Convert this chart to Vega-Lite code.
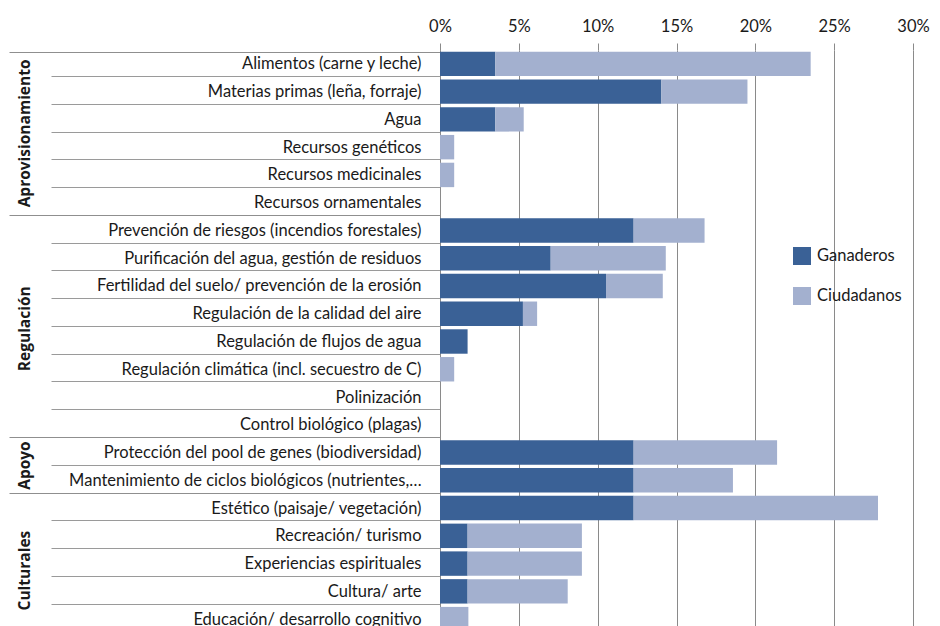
{
  "$schema": "https://vega.github.io/schema/vega-lite/v6.json",
  "autosize": {"type": "none"},
  "padding": {"left": 440, "top": 50, "right": 27, "bottom": -7},
  "width": 473,
  "height": 583,
  "background": "white",
  "data": {"values": [
    {"grupo": "Aprovisionamiento", "servicio": "Alimentos (carne y leche)", "actor": "Ganaderos", "orden": 1, "valor": 3.51},
    {"grupo": "Aprovisionamiento", "servicio": "Alimentos (carne y leche)", "actor": "Ciudadanos", "orden": 2, "valor": 20.0},
    {"grupo": "Aprovisionamiento", "servicio": "Materias primas (leña, forraje)", "actor": "Ganaderos", "orden": 1, "valor": 14.04},
    {"grupo": "Aprovisionamiento", "servicio": "Materias primas (leña, forraje)", "actor": "Ciudadanos", "orden": 2, "valor": 5.46},
    {"grupo": "Aprovisionamiento", "servicio": "Agua", "actor": "Ganaderos", "orden": 1, "valor": 3.51},
    {"grupo": "Aprovisionamiento", "servicio": "Agua", "actor": "Ciudadanos", "orden": 2, "valor": 1.8},
    {"grupo": "Aprovisionamiento", "servicio": "Recursos genéticos", "actor": "Ganaderos", "orden": 1, "valor": 0},
    {"grupo": "Aprovisionamiento", "servicio": "Recursos genéticos", "actor": "Ciudadanos", "orden": 2, "valor": 0.9},
    {"grupo": "Aprovisionamiento", "servicio": "Recursos medicinales", "actor": "Ganaderos", "orden": 1, "valor": 0},
    {"grupo": "Aprovisionamiento", "servicio": "Recursos medicinales", "actor": "Ciudadanos", "orden": 2, "valor": 0.9},
    {"grupo": "Aprovisionamiento", "servicio": "Recursos ornamentales", "actor": "Ganaderos", "orden": 1, "valor": 0},
    {"grupo": "Aprovisionamiento", "servicio": "Recursos ornamentales", "actor": "Ciudadanos", "orden": 2, "valor": 0},
    {"grupo": "Regulación", "servicio": "Prevención de riesgos (incendios forestales)", "actor": "Ganaderos", "orden": 1, "valor": 12.28},
    {"grupo": "Regulación", "servicio": "Prevención de riesgos (incendios forestales)", "actor": "Ciudadanos", "orden": 2, "valor": 4.5},
    {"grupo": "Regulación", "servicio": "Purificación del agua, gestión de residuos", "actor": "Ganaderos", "orden": 1, "valor": 7.02},
    {"grupo": "Regulación", "servicio": "Purificación del agua, gestión de residuos", "actor": "Ciudadanos", "orden": 2, "valor": 7.3},
    {"grupo": "Regulación", "servicio": "Fertilidad del suelo/ prevención de la erosión", "actor": "Ganaderos", "orden": 1, "valor": 10.53},
    {"grupo": "Regulación", "servicio": "Fertilidad del suelo/ prevención de la erosión", "actor": "Ciudadanos", "orden": 2, "valor": 3.6},
    {"grupo": "Regulación", "servicio": "Regulación de la calidad del aire", "actor": "Ganaderos", "orden": 1, "valor": 5.26},
    {"grupo": "Regulación", "servicio": "Regulación de la calidad del aire", "actor": "Ciudadanos", "orden": 2, "valor": 0.9},
    {"grupo": "Regulación", "servicio": "Regulación de flujos de agua", "actor": "Ganaderos", "orden": 1, "valor": 1.75},
    {"grupo": "Regulación", "servicio": "Regulación de flujos de agua", "actor": "Ciudadanos", "orden": 2, "valor": 0},
    {"grupo": "Regulación", "servicio": "Regulación climática (incl. secuestro de C)", "actor": "Ganaderos", "orden": 1, "valor": 0},
    {"grupo": "Regulación", "servicio": "Regulación climática (incl. secuestro de C)", "actor": "Ciudadanos", "orden": 2, "valor": 0.9},
    {"grupo": "Regulación", "servicio": "Polinización", "actor": "Ganaderos", "orden": 1, "valor": 0},
    {"grupo": "Regulación", "servicio": "Polinización", "actor": "Ciudadanos", "orden": 2, "valor": 0},
    {"grupo": "Regulación", "servicio": "Control biológico (plagas)", "actor": "Ganaderos", "orden": 1, "valor": 0},
    {"grupo": "Regulación", "servicio": "Control biológico (plagas)", "actor": "Ciudadanos", "orden": 2, "valor": 0},
    {"grupo": "Apoyo", "servicio": "Protección del pool de genes (biodiversidad)", "actor": "Ganaderos", "orden": 1, "valor": 12.28},
    {"grupo": "Apoyo", "servicio": "Protección del pool de genes (biodiversidad)", "actor": "Ciudadanos", "orden": 2, "valor": 9.1},
    {"grupo": "Apoyo", "servicio": "Mantenimiento de ciclos biológicos (nutrientes,…", "actor": "Ganaderos", "orden": 1, "valor": 12.28},
    {"grupo": "Apoyo", "servicio": "Mantenimiento de ciclos biológicos (nutrientes,…", "actor": "Ciudadanos", "orden": 2, "valor": 6.3},
    {"grupo": "Culturales", "servicio": "Estético (paisaje/ vegetación)", "actor": "Ganaderos", "orden": 1, "valor": 12.28},
    {"grupo": "Culturales", "servicio": "Estético (paisaje/ vegetación)", "actor": "Ciudadanos", "orden": 2, "valor": 15.5},
    {"grupo": "Culturales", "servicio": "Recreación/ turismo", "actor": "Ganaderos", "orden": 1, "valor": 1.75},
    {"grupo": "Culturales", "servicio": "Recreación/ turismo", "actor": "Ciudadanos", "orden": 2, "valor": 7.25},
    {"grupo": "Culturales", "servicio": "Experiencias espirituales", "actor": "Ganaderos", "orden": 1, "valor": 1.75},
    {"grupo": "Culturales", "servicio": "Experiencias espirituales", "actor": "Ciudadanos", "orden": 2, "valor": 7.25},
    {"grupo": "Culturales", "servicio": "Cultura/ arte", "actor": "Ganaderos", "orden": 1, "valor": 1.75},
    {"grupo": "Culturales", "servicio": "Cultura/ arte", "actor": "Ciudadanos", "orden": 2, "valor": 6.35},
    {"grupo": "Culturales", "servicio": "Educación/ desarrollo cognitivo", "actor": "Ganaderos", "orden": 1, "valor": 0},
    {"grupo": "Culturales", "servicio": "Educación/ desarrollo cognitivo", "actor": "Ciudadanos", "orden": 2, "valor": 1.8}
  ]},
  "layer": [
    {
      "mark": {"type": "bar"},
      "encoding": {
        "y": {
          "field": "servicio", "type": "nominal", "sort": null,
          "scale": {"paddingInner": 0.12, "paddingOuter": 0.06},
          "axis": {
            "orient": "left",
            "title": null,
            "tickBand": "extent",
            "tickSize": 389,
            "labelPadding": -370,
            "tickColor": "#9a9a9a",
            "domainColor": "#8a8a8a",
            "labelFont": "Lato",
            "labelFontSize": 16.5,
            "labelColor": "#1a1a1a",
            "labelLimit": 420
          }
        },
        "x": {
          "field": "valor", "type": "quantitative", "stack": "zero",
          "scale": {"domain": [0, 30]},
          "axis": {
            "orient": "top", "title": null,
            "values": [0, 5, 10, 15, 20, 25, 30],
            "labelExpr": "datum.value + '%'",
            "labelFlush": false,
            "domain": false,
            "grid": true, "gridColor": "#8a8a8a", "gridWidth": 1,
            "ticks": true, "tickSize": 7, "tickColor": "#8a8a8a",
            "labelPadding": 9,
            "labelFont": "Lato", "labelFontSize": 16.5, "labelColor": "#1a1a1a"
          }
        },
        "color": {
          "field": "actor", "type": "nominal",
          "scale": {"domain": ["Ganaderos", "Ciudadanos"], "range": ["#3a6196", "#a3b0cf"]},
          "legend": {
            "orient": "none", "legendX": 353, "legendY": 197,
            "title": null, "symbolType": "square", "symbolSize": 324,
            "symbolStrokeWidth": 0, "labelFont": "Lato", "labelFontSize": 16.5,
            "labelColor": "#1a1a1a", "rowPadding": 22, "labelOffset": 6
          }
        },
        "order": {"field": "orden", "type": "quantitative"}
      }
    },
    {
      "mark": {"type": "bar", "opacity": 0},
      "encoding": {
        "y": {
          "field": "servicio", "type": "nominal", "sort": null,
          "axis": {
            "orient": "left",
            "title": null,
            "labels": false,
            "domain": false,
            "tickBand": "extent",
            "tickSize": 431,
            "tickColor": "#8f8f8f",
            "tickOpacity": {"condition": {"test": "datum.extra || indexof(['Recursos ornamentales', 'Control biológico (plagas)', 'Mantenimiento de ciclos biológicos (nutrientes,…'], datum.value) >= 0", "value": 1}, "value": 0}
          }
        },
        "x": {
          "field": "valor", "type": "quantitative", "stack": "zero",
          "axis": {
            "orient": "top", "title": null,
            "values": [0, 5, 10, 15, 20, 25, 30],
            "labelExpr": "datum.value + '%'",
            "labelFlush": false,
            "domain": false,
            "grid": true, "gridColor": "#8a8a8a", "gridWidth": 1,
            "ticks": true, "tickSize": 7, "tickColor": "#8a8a8a",
            "labelPadding": 9,
            "labelFont": "Lato", "labelFontSize": 16.5, "labelColor": "#1a1a1a"
          }
        }
      }
    },
    {
      "mark": {"type": "bar", "opacity": 0},
      "encoding": {
        "y": {
          "field": "servicio", "type": "nominal", "sort": null,
          "axis": {
            "orient": "left",
            "title": null,
            "ticks": false,
            "tickSize": 0,
            "domain": false,
            "labelAngle": 270,
            "labelPadding": 408,
            "labelLimit": 300,
            "labelFont": "Open Sans",
            "labelFontSize": 15.5,
            "labelFontWeight": "bold",
            "labelColor": "#1a1a1a",
            "labelExpr": "datum.value == 'Agua' ? 'Aprovisionamiento' : datum.value == 'Regulación de la calidad del aire' ? 'Regulación' : datum.value == 'Protección del pool de genes (biodiversidad)' ? 'Apoyo' : datum.value == 'Experiencias espirituales' ? 'Culturales' : ''",
            "labelOffset": {"condition": [
              {"test": "datum.value == 'Agua'", "value": 14},
              {"test": "datum.value == 'Regulación de la calidad del aire'", "value": 15},
              {"test": "datum.value == 'Protección del pool de genes (biodiversidad)'", "value": 13},
              {"test": "datum.value == 'Experiencias espirituales'", "value": 7}
            ], "value": 0}
          }
        },
        "x": {
          "field": "valor", "type": "quantitative", "stack": "zero",
          "axis": {
            "orient": "top", "title": null,
            "values": [0, 5, 10, 15, 20, 25, 30],
            "labelExpr": "datum.value + '%'",
            "labelFlush": false,
            "domain": false,
            "grid": true, "gridColor": "#8a8a8a", "gridWidth": 1,
            "ticks": true, "tickSize": 7, "tickColor": "#8a8a8a",
            "labelPadding": 9,
            "labelFont": "Lato", "labelFontSize": 16.5, "labelColor": "#1a1a1a"
          }
        }
      }
    }
  ],
  "resolve": {"axis": {"y": "independent"}},
  "config": {"view": {"stroke": null}, "font": "Lato"}
}
